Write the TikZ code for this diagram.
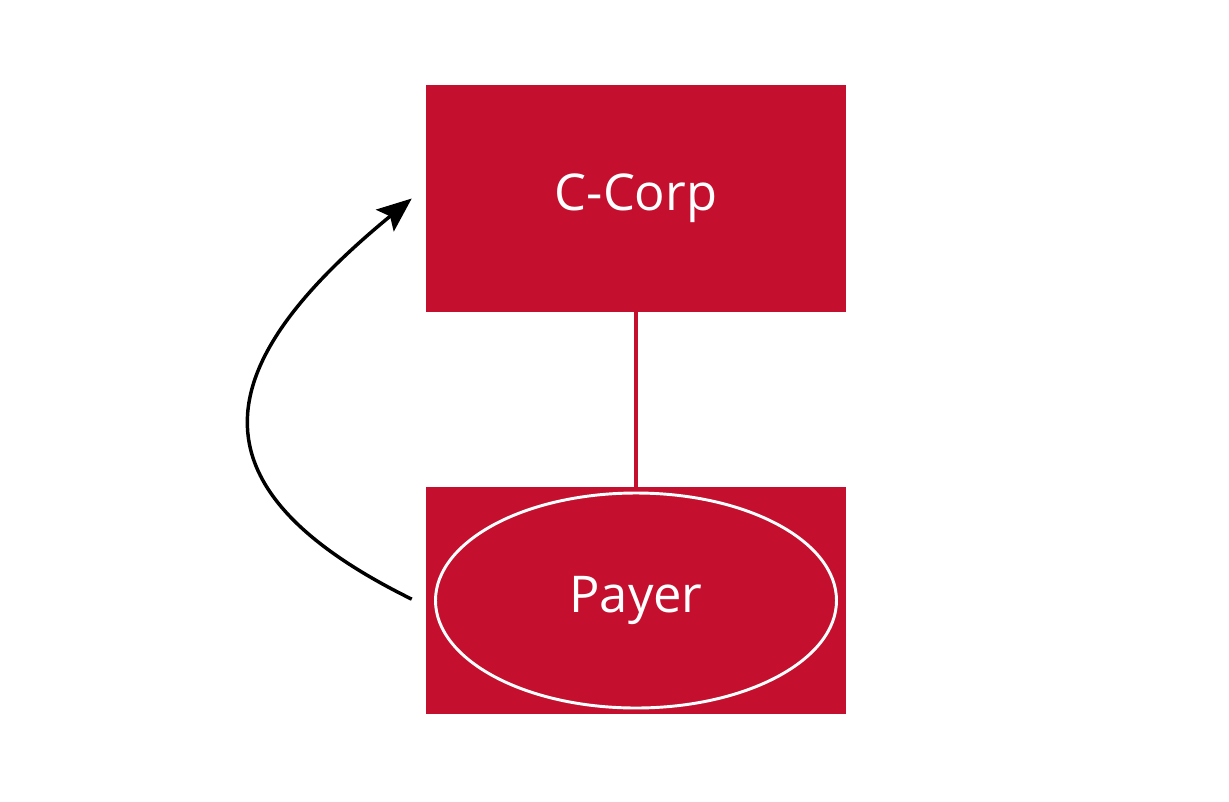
\documentclass[tikz,border=0pt]{standalone}
\usepackage{fontspec}
\setmainfont{Open Sans}
\usepackage{xcolor}
\usetikzlibrary{arrows.meta,shapes.geometric}

\definecolor{corpred}{RGB}{196,16,46}

\begin{document}
\begin{tikzpicture}[x=0.75pt,y=0.75pt,yscale=-1,xscale=1,
  redbox/.style={fill=corpred,draw=none,inner sep=0pt,minimum width=315pt,minimum height=170.25pt,text=white,font=\fontsize{38}{45}\selectfont},
  payeroval/.style={ellipse,draw=white,line width=2.2pt,inner sep=0pt,minimum width=300.75pt,minimum height=161.25pt,text=white,font=\fontsize{38}{45}\selectfont},
  tie/.style={draw=corpred,line width=2.4pt},
  flow/.style={draw=black,line width=2.6pt,-{Stealth[length=26pt,width=21pt,inset=5pt]}}]

\useasboundingbox (0,0) rectangle (1229,801);

\node [redbox] (ccorp) at (636,198.5) {C-Corp};

\node [redbox] (payerbox) at (636,600.5) {};

\node [payeroval] (payer) at (636,600.5) {Payer};

\draw [tie] (ccorp.south) -- (payerbox.north);

\draw [flow] ([xshift=-10.5pt,yshift=-1pt]payerbox.west) .. controls (182,486) and (210,364) .. ([xshift=-10.5pt]ccorp.west);

\end{tikzpicture}
\end{document}
